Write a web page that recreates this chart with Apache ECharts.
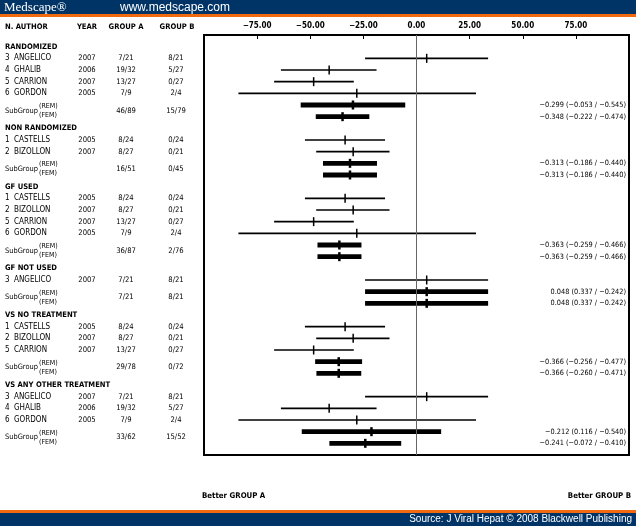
<!DOCTYPE html>
<html><head><meta charset="utf-8">
<script src="https://cdn.jsdelivr.net/npm/echarts@6/dist/echarts.min.js"></script>
<style>html,body{margin:0;padding:0;background:#fff}#c{width:636px;height:526px}</style>
</head><body><div id="c"></div>
<script>
// ---------- data ----------
const groupNames = ['RANDOMIZED','NON RANDOMIZED','GF USED','GF NOT USED','VS NO TREATMENT','VS ANY OTHER TREATMENT'];
const groupStudies = [
  ['ANGELICO','GHALIB','CARRION','GORDON'],
  ['CASTELLS','BIZOLLON'],
  ['CASTELLS','BIZOLLON','CARRION','GORDON'],
  ['ANGELICO'],
  ['CASTELLS','BIZOLLON','CARRION'],
  ['ANGELICO','GHALIB','GORDON']
];
const studyNames   = ['ANGELICO','GHALIB','CARRION','GORDON','CASTELLS','BIZOLLON'];
const studyNumbers = [3,4,5,6,1,2];
const studyYears   = [2007,2006,2007,2005,2005,2007];
const studyGroupA  = ['7/21','19/32','13/27','7/9','8/24','8/27'];
const studyGroupB  = ['8/21','5/27','0/27','2/4','0/24','0/21'];
const studyEffect  = [4.8,-41.1,-48.4,-28.1,-33.6,-29.8];
const studyLow     = [-24.2,-63.8,-67.0,-83.8,-52.5,-47.2];
const studyHigh    = [33.7,-18.8,-29.5,28.0,-14.8,-12.7];

const subGroupA = ['46/89','16/51','36/87','7/21','29/78','33/62'];
const subGroupB = ['15/79','0/45','2/76','8/21','0/72','15/52'];
const remEst   = [-0.299,-0.313,-0.363,0.048,-0.366,-0.212];
const remUpper = [-0.053,-0.186,-0.259,0.337,-0.256,0.116];
const remLower = [-0.545,-0.440,-0.466,-0.242,-0.477,-0.540];
const femEst   = [-0.348,-0.313,-0.363,0.048,-0.366,-0.241];
const femUpper = [-0.222,-0.186,-0.259,0.337,-0.260,-0.072];
const femLower = [-0.474,-0.440,-0.466,-0.242,-0.471,-0.410];

const xTicks = [-75,-50,-25,0,25,50,75];
const headers = ['N. AUTHOR','YEAR','GROUP A','GROUP B'];

// ---------- build rows ----------
const COND = "'Liberation Sans Narrow','DejaVu Sans Condensed','Arial Narrow','Liberation Sans',sans-serif";
const tableRows = [], ciRows = [], statRows = [];
let slot = -1;
groupNames.forEach((g, gi) => {
  tableRows.push([slot, 0, gi]); slot++;
  groupStudies[gi].forEach(name => {
    const si = studyNames.indexOf(name);
    tableRows.push([slot, 1, si]);
    ciRows.push([studyLow[si], slot, studyHigh[si], studyEffect[si], 0]);
    slot++;
  });
  tableRows.push([slot + 0.5, 2, gi]);
  ciRows.push([remLower[gi]*100, slot, remUpper[gi]*100, remEst[gi]*100, 1]);
  statRows.push([0, slot, 0, gi]); slot++;
  ciRows.push([femLower[gi]*100, slot, femUpper[gi]*100, femEst[gi]*100, 1]);
  statRows.push([0, slot, 1, gi]); slot++;
});
const m = v => (v < 0 ? '\u2212' : '') + Math.abs(v).toFixed(3);

const chart = echarts.init(document.getElementById('c'), null, {renderer:'canvas'});
function txt(x, y, s, opt) {
  return Object.assign({type:'text', x:x, y:y, silent:true,
    style:Object.assign({text:s, fill:'#000', align:'left', verticalAlign:'middle', font:'8px ' + COND}, opt || {})});
}
chart.setOption({
  animation:false,
  backgroundColor:'#fff',
  grid:{left:204, top:35, width:425, height:420, show:true, borderColor:'#000', borderWidth:2, backgroundColor:'transparent'},
  xAxis:{type:'value', min:-100, max:100, interval:25, position:'top',
    axisLine:{show:false, onZero:false}, splitLine:{show:false},
    axisTick:{inside:true, length:4, lineStyle:{color:'#000', width:1}},
    axisLabel:{margin:5, color:'#000', fontSize:8, fontWeight:'bold', fontFamily:COND,
      formatter:v => xTicks.indexOf(v) < 0 ? '' : (v < 0 ? '\u2212' : '') + Math.abs(v).toFixed(2)}},
  yAxis:{type:'value', min:-2, max:34, inverse:true, show:false},
  series:[
    {type:'custom', name:'ci', clip:false, silent:true, data:ciRows,
      encode:{x:[0,2,3], y:1},
      renderItem:(p, api) => {
        const s = api.value(1), big = api.value(4) === 1;
        const a = api.coord([api.value(0), s]), b = api.coord([api.value(2), s]), c = api.coord([api.value(3), s]);
        return {type:'group', children:[
          {type:'line', shape:{x1:a[0], y1:a[1], x2:b[0], y2:b[1]}, style:{stroke:'#000', lineWidth:big ? 4.8 : 1.6}},
          {type:'line', shape:{x1:c[0], y1:c[1]-4.5, x2:c[0], y2:c[1]+4.5}, style:{stroke:'#000', lineWidth:big ? 2.5 : 1.5}}
        ]};
      },
      markLine:{silent:true, symbol:'none', label:{show:false}, data:[{xAxis:0}],
        lineStyle:{color:'#666', width:1, type:'solid'}}
    },
    {type:'custom', name:'stats', clip:false, silent:true, data:statRows,
      encode:{x:0, y:1},
      renderItem:(p, api) => {
        const s = api.value(1), gi = api.value(3), fem = api.value(2) === 1;
        const e = fem ? femEst[gi] : remEst[gi], u = fem ? femUpper[gi] : remUpper[gi], l = fem ? femLower[gi] : remLower[gi];
        const pt = api.coord([100, s]);
        return txt(pt[0]-3, pt[1], m(e) + ' (' + m(u) + ' / ' + m(l) + ')', {align:'right', font:'7.3px ' + COND});
      }
    },
    {type:'custom', name:'table', clip:false, silent:true, data:tableRows,
      encode:{x:1, y:0},
      renderItem:(p, api) => {
        const s = api.value(0), kind = api.value(1), i = api.value(2);
        const y = api.coord([-100, s])[1];
        if (kind === 0) return txt(5, y, groupNames[i], {font:'bold 7.6px ' + COND});
        if (kind === 1) return {type:'group', children:[
          txt(5, y, String(studyNumbers[i])),
          txt(14, y, studyNames[i]),
          txt(87, y, String(studyYears[i]), {align:'center', font:'7.6px ' + COND}),
          txt(126, y, studyGroupA[i], {align:'center', font:'7.6px ' + COND}),
          txt(176, y, studyGroupB[i], {align:'center', font:'7.6px ' + COND})
        ]};
        return {type:'group', children:[
          txt(5, y, 'SubGroup', {font:'7.4px ' + COND}),
          txt(39, y-4.5, '(REM)', {font:'7px ' + COND}),
          txt(39, y+4.5, '(FEM)', {font:'7px ' + COND}),
          txt(126, y, subGroupA[i], {align:'center', font:'7.6px ' + COND}),
          txt(176, y, subGroupB[i], {align:'center', font:'7.6px ' + COND})
        ]};
      }
    }
  ],
  graphic:[
    {type:'rect', shape:{x:0, y:0, width:636, height:14}, style:{fill:'#003366'}, silent:true},
    {type:'rect', shape:{x:0, y:14, width:636, height:3}, style:{fill:'#f26a10'}, silent:true},
    txt(4, 7.5, 'Medscape\u00AE', {fill:'#fff', font:'13px "Liberation Serif",serif'}),
    txt(120, 7.5, 'www.medscape.com', {fill:'#fff', font:'12px "Liberation Sans",Arial,sans-serif'}),
    txt(5, 27, headers[0], {font:'bold 7.6px ' + COND}),
    txt(87, 27, headers[1], {align:'center', font:'bold 7.6px ' + COND}),
    txt(126, 27, headers[2], {align:'center', font:'bold 7.6px ' + COND}),
    txt(177, 27, headers[3], {align:'center', font:'bold 7.6px ' + COND}),
    txt(202, 496, 'Better GROUP A', {font:'bold 7.8px ' + COND}),
    txt(631, 496, 'Better GROUP B', {align:'right', font:'bold 7.8px ' + COND}),
    {type:'rect', shape:{x:0, y:510, width:636, height:3}, style:{fill:'#f26a10'}, silent:true},
    {type:'rect', shape:{x:0, y:513, width:636, height:13}, style:{fill:'#003366'}, silent:true},
    txt(632, 519.5, 'Source: J Viral Hepat \u00A9 2008 Blackwell Publishing', {align:'right', fill:'#fff', font:'10px "Liberation Sans",Arial,sans-serif'})
  ]
});
</script></body></html>
